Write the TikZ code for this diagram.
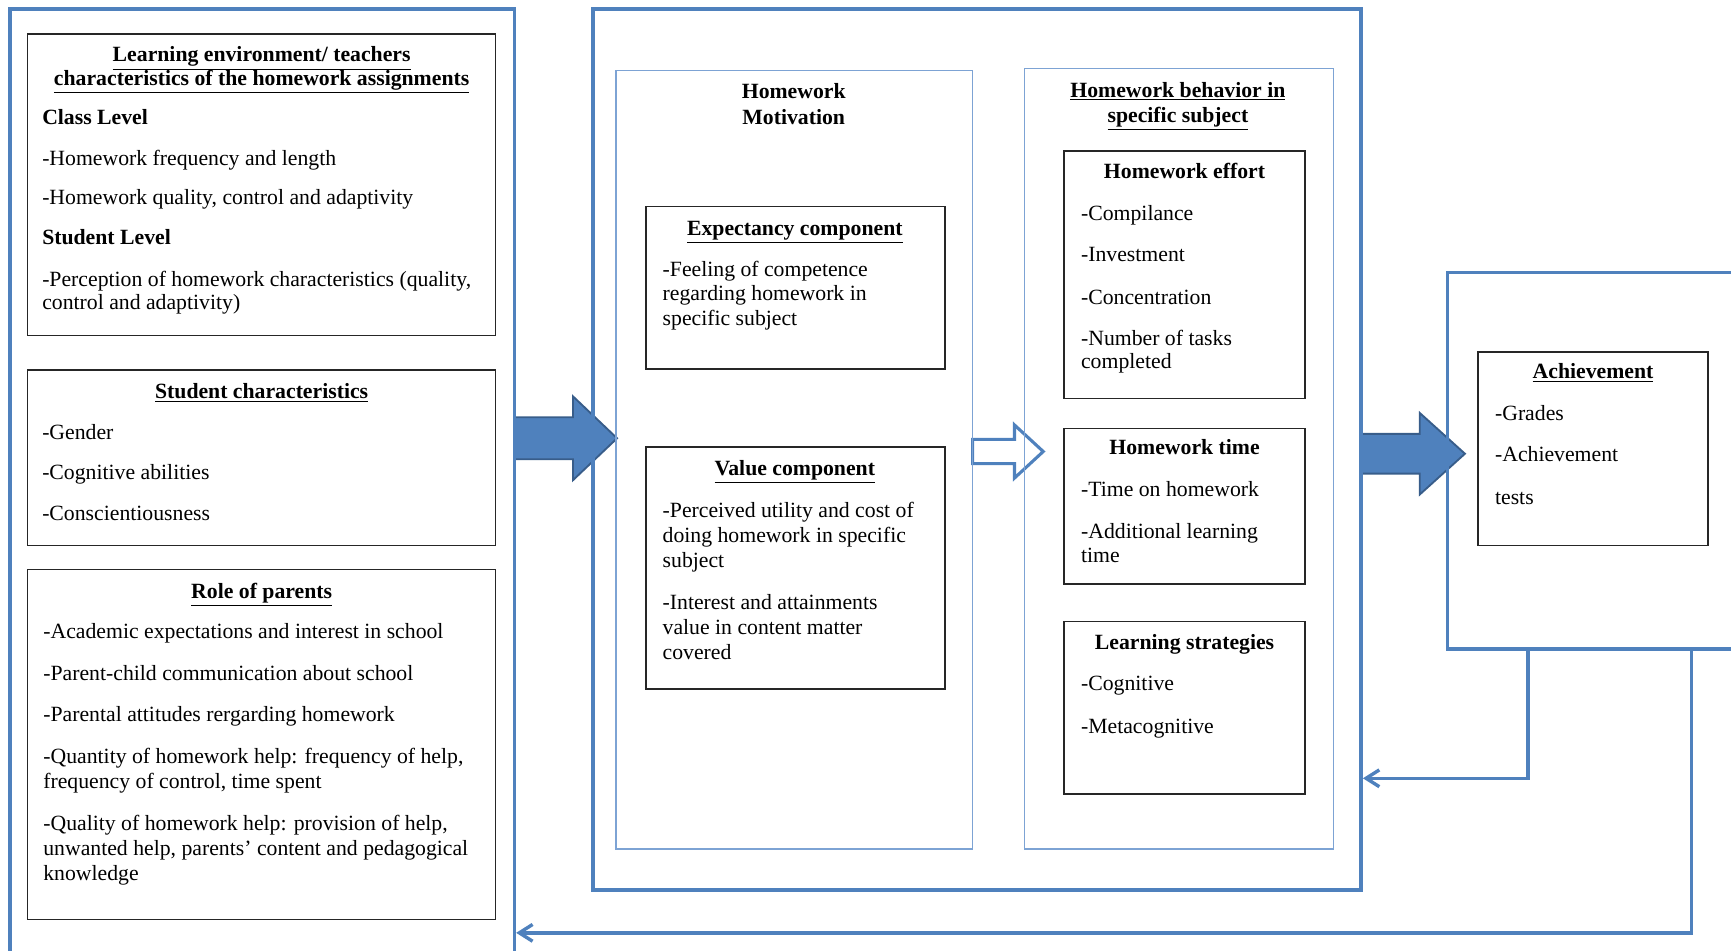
\documentclass[tikz,border=0pt]{standalone}
\usepackage{fontspec}
\setmainfont{Liberation Serif}
\usetikzlibrary{arrows.meta,fit,calc}

\definecolor{hwblue}{RGB}{79,129,189}
\definecolor{hwpanel}{RGB}{125,163,212}
\definecolor{hwedge}{RGB}{56,93,138}
\newcommand{\hwfont}{\fontsize{14pt}{16pt}\selectfont}

\begin{document}
\begin{tikzpicture}[x=0.025cm, y=-0.025cm,
        bluebox/.style={draw=hwblue, line width=2.2pt, inner sep=0pt},
        panel/.style={draw=hwpanel, line width=1pt, inner sep=0pt},
        textbox/.style={draw=black!85, line width=1pt, inner sep=0pt},
        head/.style={anchor=north, align=center, inner sep=0pt, font=\hwfont\bfseries},
        items/.style={anchor=north west, align=left, inner sep=0pt, font=\hwfont},
        bigarrow/.style={fill=hwblue, draw=hwedge, line width=1.2pt, line join=miter},
        hollowarrow/.style={draw=hwblue, line width=2pt, line join=miter},
        fback/.style={draw=hwblue, line width=2.2pt, -{Straight Barb[length=3mm, width=3.8mm]}}]
        \clip[use as bounding box] (0,0) rectangle (1568,861);

        \draw[bigarrow] (466,378) -- (519,378) -- (519,359) -- (559,397)
              -- (519,435) -- (519,416) -- (466,416) -- cycle;
        \draw[hollowarrow] (881,398) -- (919,398) -- (919,385) -- (945,409)
              -- (919,433) -- (919,420) -- (881,420) -- cycle;
        \draw[bigarrow] (1233,393) -- (1286,393) -- (1286,374) -- (1327,411)
              -- (1286,448) -- (1286,429) -- (1233,429) -- cycle;

        \node[bluebox, fit={(9,8) (466,900)}] (context) {};
        \node[bluebox, fit={(537,8) (1233,806)}] (mid) {};
        \node[bluebox, fit={(1311,247) (1600,588)}] (result) {};
        \node[panel, fit={(558,64) (881,769)}] (motiv) {};
        \node[panel, fit={(928,62) (1208,769)}] (behav) {};

        \node[textbox, fit={(25,31) (449,304)}] (envbox) {};
        \node[textbox, fit={(25,335) (449,494)}] (stubox) {};
        \node[textbox, fit={(25,516) (449,833)}] (parbox) {};
        \node[textbox, fit={(585,187) (856,334)}] (expbox) {};
        \node[textbox, fit={(585,405) (856,624)}] (valbox) {};
        \node[textbox, fit={(964,137) (1182,361)}] (effortbox) {};
        \node[textbox, fit={(964,388) (1182,529)}] (timebox) {};
        \node[textbox, fit={(964,563) (1182,719)}] (stratbox) {};
        \node[textbox, fit={(1339,319) (1547,494)}] (achvbox) {};

        \node[head] (envhead) at (237,40)
              {\strut\underline{Learning environment/ teachers}\\[-1pt]
               \underline{characteristics of the homework assignments}};
        \node[items] (envitems) at (38,97)
              {\strut\textbf{Class Level}\\[10pt]
               -Homework frequency and length\\[9.5pt]
               -Homework quality, control and adaptivity\\[9.5pt]
               \textbf{Student Level}\\[11pt]
               -Perception of homework characteristics (quality,\\[-1pt]
               control and adaptivity)};

        \node[head] (stuhead) at (237,345) {\strut\underline{Student characteristics}};
        \node[items] (stuitems) at (38,382)
              {\strut -Gender\\[10pt] -Cognitive abilities\\[10pt] -Conscientiousness};

        \node[head] (parhead) at (237,526) {\strut\underline{Role of parents}};
        \node[items] (paritems) at (39,562)
              {\strut -Academic expectations and interest in school\\[11pt]
               -Parent-child communication about school\\[11pt]
               -Parental attitudes rergarding homework\\[11pt]
               -Quantity of homework help: frequency of help,\\
               frequency of control, time spent\\[11pt]
               -Quality of homework help: provision of help,\\
               unwanted help, parents’ content and pedagogical\\
               knowledge};

        \node[head] (motivhead) at (719,73) {\strut Homework\\[1pt] Motivation};
        \node[head] (exphead) at (720,197) {\strut\underline{Expectancy component}};
        \node[items] (expitems) at (600,234)
              {\strut -Feeling of competence\\ regarding homework in\\ specific subject};
        \node[head] (valhead) at (720,415) {\strut\underline{Value component}};
        \node[items] (valitems) at (600,453)
              {\strut -Perceived utility and cost of\\ doing homework in specific\\ subject\\[11pt]
               -Interest and attainments\\ value in content matter\\ covered};

        \node[head] (behavhead) at (1067,72)
              {\strut\underline{Homework behavior in}\\ \underline{specific subject}};
        \node[head] (efforthead) at (1073,146) {\strut Homework effort};
        \node[items] (effortitems) at (979,184)
              {\strut -Compilance\\[10pt] -Investment\\[12pt] -Concentration\\[10pt]
               -Number of tasks\\[-1pt] completed};
        \node[head] (timehead) at (1073,396) {\strut Homework time};
        \node[items] (timeitems) at (979,434)
              {\strut -Time on homework\\[11pt] -Additional learning\\[-1pt] time};
        \node[head] (strathead) at (1073,572) {\strut Learning strategies};
        \node[items] (stratitems) at (979,609)
              {\strut -Cognitive\\[12pt] -Metacognitive};

        \node[head] (achvhead) at (1443,327) {\strut\underline{Achievement}};
        \node[items] (achvitems) at (1354,365)
              {\strut -Grades\\[10pt] -Achievement\\[12pt] tests};

        \coordinate (loopA) at (1384,705);
        \coordinate (loopB) at (1532,845);
        \draw[fback] (result.south -| loopA) |- (mid.east |- loopA);
        \draw[fback] (result.south -| loopB) |- (context.east |- loopB);
\end{tikzpicture}
\end{document}
